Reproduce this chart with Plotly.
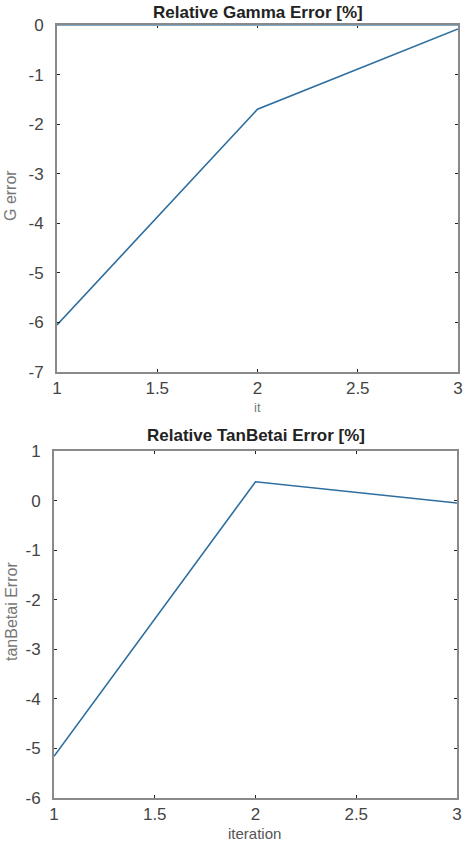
import plotly.graph_objects as go

iters = [1, 2, 3]
gamma_err = [-6.05, -1.7, -0.08]
tanbeta_err = [-5.16, 0.38, -0.05]

top_yticks = [0, -1, -2, -3, -4, -5, -6, -7]
bot_yticks = [1, 0, -1, -2, -3, -4, -5, -6]
xticks = [1, 1.5, 2, 2.5, 3]

W, H = 464, 841
def px(x):
    return x / W
def py(y):
    return 1 - y / H

LINE = "#2d6e9e"
FRAME = "#8a8a8a"
FONT = "Liberation Sans, Arial, sans-serif"

fig = go.Figure()
fig.add_trace(go.Scatter(x=iters, y=gamma_err, mode="lines",
                         line=dict(color=LINE, width=1.6), xaxis="x", yaxis="y",
                         showlegend=False))
fig.add_trace(go.Scatter(x=iters, y=tanbeta_err, mode="lines",
                         line=dict(color=LINE, width=1.6), xaxis="x2", yaxis="y2",
                         showlegend=False))

axcommon = dict(showline=True, linecolor=FRAME, linewidth=2, mirror="ticks",
                ticks="inside", ticklen=3, tickcolor="#222", tickwidth=1,
                showgrid=False, zeroline=False, ticklabeloverflow="allow",
                tickfont=dict(family=FONT, size=17, color="#444"))

fig.update_layout(
    width=W, height=H,
    margin=dict(l=0, r=0, t=0, b=0, autoexpand=False),
    paper_bgcolor="white", plot_bgcolor="white",
    xaxis=dict(domain=[px(57), px(458)], range=[1, 3], tickvals=xticks,
               ticktext=[str(v) for v in xticks], anchor="y",
               ticklabelstandoff=0, **axcommon),
    yaxis=dict(domain=[py(372), py(25)], range=[-7, 0], tickvals=top_yticks,
               ticktext=[str(v) for v in top_yticks],
               anchor="x", ticklabelstandoff=8, **axcommon),
    xaxis2=dict(domain=[px(54), px(457)], range=[1, 3], tickvals=xticks,
                ticktext=[str(v) for v in xticks], anchor="y2",
                ticklabelstandoff=0, **axcommon),
    yaxis2=dict(domain=[py(798), py(451)], range=[-6, 1], tickvals=bot_yticks,
                ticktext=[str(v) for v in bot_yticks],
                anchor="x2", ticklabelstandoff=8, **axcommon),
)

# bluish top border of the first axes
fig.add_shape(type="line", xref="x domain", yref="y", x0=0, x1=1, y0=0, y1=0,
              line=dict(color="#7fa7c6", width=2), layer="above")

def note(text, x, y, size, color, angle=0):
    return dict(text=text, x=px(x), y=py(y), xref="paper", yref="paper",
                xanchor="center", yanchor="middle", textangle=angle,
                showarrow=False, font=dict(family=FONT, size=size, color=color))

ann = [
    note("<b>Relative Gamma Error [%]</b>", 258, 12, 17, "#222"),
    note("<b>Relative TanBetai Error [%]</b>", 256, 436, 17, "#222"),
    note("it", 257, 407, 13, "#777"),
    note("iteration", 255, 833, 15, "#555"),
    note("G error", 11, 196, 16, "#777", -90),
    note("tanBetai Error", 11, 612, 16, "#777", -90),
]
fig.update_layout(annotations=ann)

fig.write_html("out.html", config={"displayModeBar": False},
               post_script="document.body.style.margin='0';")
